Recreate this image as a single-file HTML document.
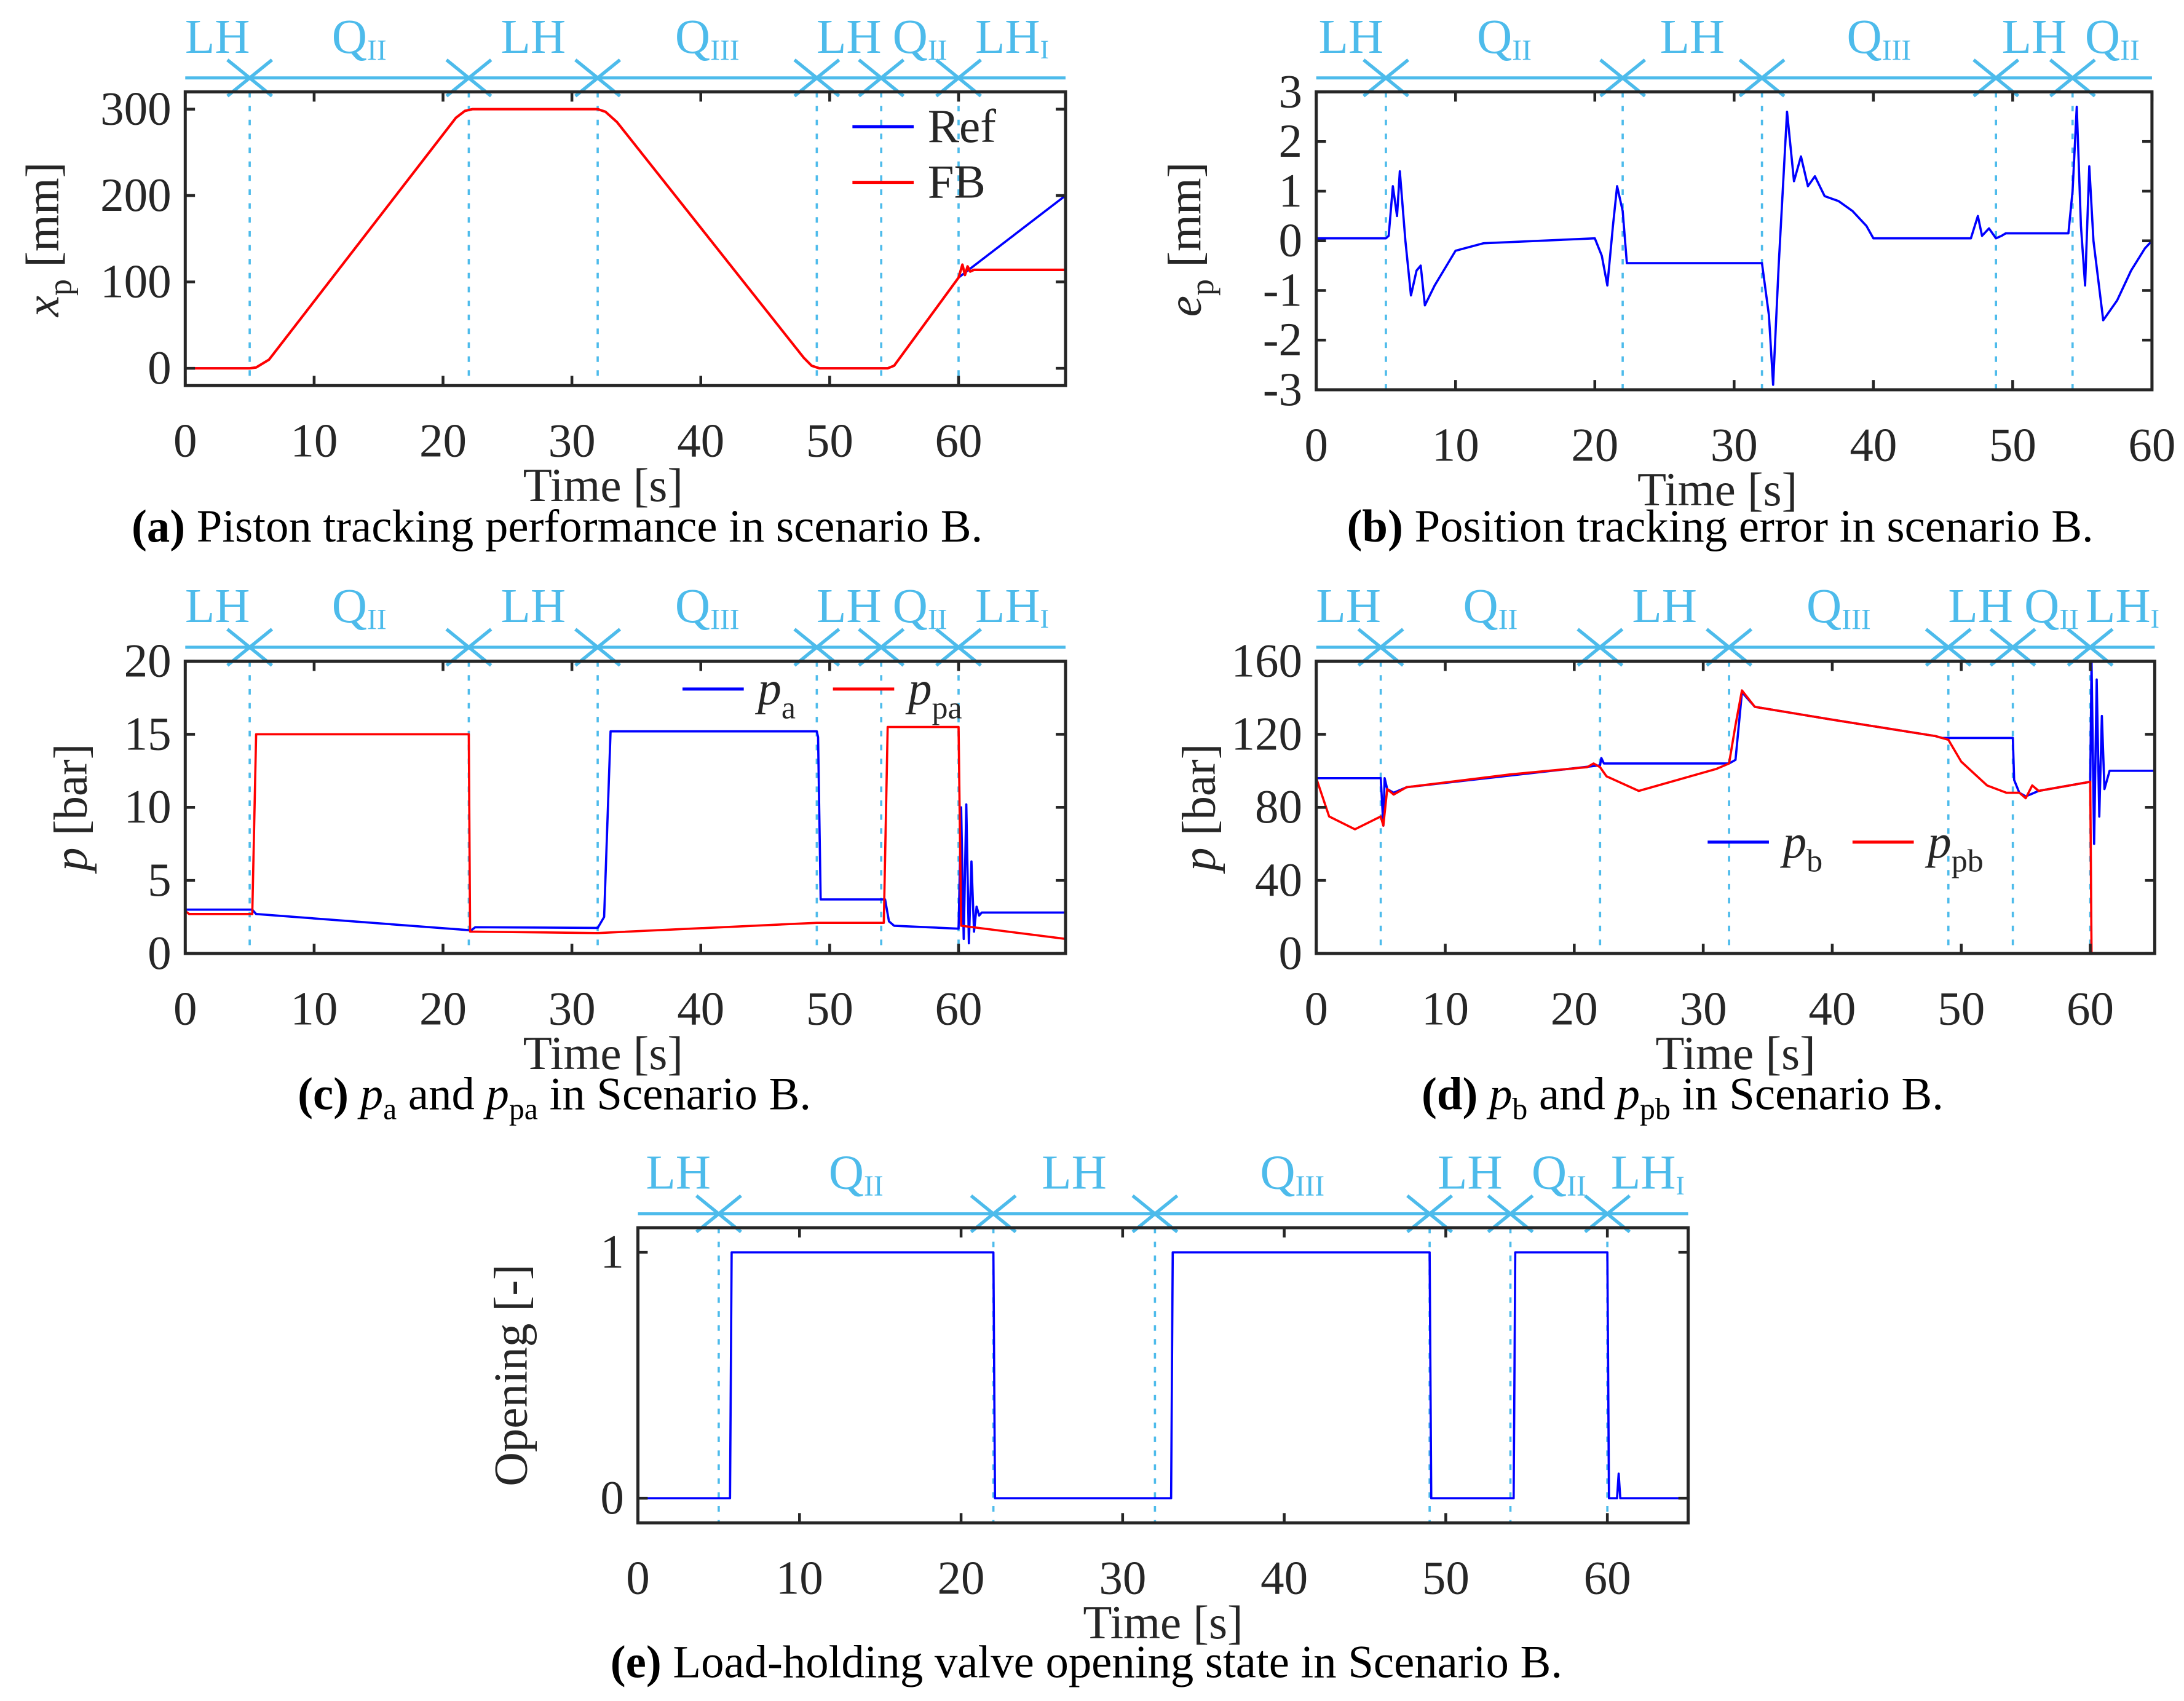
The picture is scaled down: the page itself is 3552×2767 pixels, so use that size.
<!DOCTYPE html>
<html><head><meta charset="utf-8">
<style>
html,body{margin:0;padding:0;background:#fff;}
svg{display:block;}
text{font-family:"Liberation Serif",serif;fill:#262626;}
.ph{fill:#4dbbeb;font-size:35px;}
.tk{font-size:34px;}
.cap{font-size:33px;fill:#000;}
</style></head>
<body>
<svg id="fig" width="3552" height="2767" viewBox="0 0 1568 1222" preserveAspectRatio="none" xmlns="http://www.w3.org/2000/svg">
<text class="cap" x="400" y="389" text-anchor="middle"><tspan font-weight="bold">(a)</tspan> Piston tracking performance in scenario B.</text>
<text class="cap" x="1235" y="389" text-anchor="middle"><tspan font-weight="bold">(b)</tspan> Position tracking error in scenario B.</text>
<text class="cap" x="398" y="797" text-anchor="middle"><tspan font-weight="bold">(c)</tspan> <tspan font-style="italic">p</tspan><tspan font-size="22" dy="7">a</tspan><tspan dy="-7"> and </tspan><tspan font-style="italic">p</tspan><tspan font-size="22" dy="7">pa</tspan><tspan dy="-7"> in Scenario B.</tspan></text>
<text class="cap" x="1208" y="797" text-anchor="middle"><tspan font-weight="bold">(d)</tspan> <tspan font-style="italic">p</tspan><tspan font-size="22" dy="7">b</tspan><tspan dy="-7"> and </tspan><tspan font-style="italic">p</tspan><tspan font-size="22" dy="7">pb</tspan><tspan dy="-7"> in Scenario B.</tspan></text>
<text class="cap" x="780" y="1205" text-anchor="middle"><tspan font-weight="bold">(e)</tspan> Load-holding valve opening state in Scenario B.</text>
</svg>
<script>
// ---------- data ----------
const phaseA = [5,22,32,49,54,60];
const phaseB = [5,22,32,48.8,54.3];
const phaseLabelsFull = ["LH","QII","LH","QIII","LH","QII","LH1"];
const phaseLabelsB = ["LH","QII","LH","QIII","LH","QII"];

const aT_ref = [0,5,5.5,6.5,21,21.7,22.3,32,32.6,33.5,48,48.6,49.2,54.5,55,60,68.3];
const aY_ref = [0,0,1,10,290,298,300,300,297,285,12,3,0,0,3,105,200];
const aT_fb  = [0,5,5.5,6.5,21,21.7,22.3,32,32.6,33.5,48,48.6,49.2,54.5,55,60,60.3,60.5,60.7,60.9,61.2,68.3];
const aY_fb  = [0,0,1,10,290,298,300,300,297,285,12,3,0,0,3,105,120,108,118,112,114,114];

const bT = [0,5,5.2,5.5,5.8,6.0,6.4,6.8,7.2,7.5,7.8,8.5,10,12,20,20.5,20.9,21.3,21.6,22,22.3,32,32.5,32.8,33.2,33.8,34.3,34.8,35.3,35.8,36.5,37.5,38.5,39.5,40,47,47.5,47.8,48.3,48.8,49.2,49.5,54,54.3,54.6,54.9,55.2,55.5,55.8,56.5,57.5,58.5,59.5,60];
const bE = [0.05,0.05,0.1,1.1,0.5,1.4,0,-1.1,-0.6,-0.5,-1.3,-0.9,-0.2,-0.05,0.05,-0.3,-0.9,0.3,1.1,0.6,-0.45,-0.45,-1.5,-2.9,-0.5,2.6,1.2,1.7,1.1,1.3,0.9,0.8,0.6,0.3,0.05,0.05,0.5,0.1,0.25,0.05,0.1,0.15,0.15,1,2.7,0.3,-0.9,1.5,0,-1.6,-1.2,-0.6,-0.15,0];

const cT_pa = [0,5.2,5.5,22,22.2,22.5,32,32.5,33,49,49.1,49.3,54.3,54.6,55,60,60.2,60.4,60.6,60.8,61.0,61.2,61.4,61.6,61.8,62,68.3];
const cY_pa = [3,3,2.7,1.6,1.6,1.8,1.75,2.5,15.2,15.2,14.8,3.7,3.7,2.2,1.9,1.7,10,1,10.2,0.7,6.3,1.5,3.2,2.6,2.8,2.8,2.8];
const cT_ppa = [0,0.3,5.2,5.5,5.7,22,22.1,32,49,54.2,54.5,60,60.2,68.3];
const cY_ppa = [2.9,2.7,2.7,15,15,15,1.5,1.4,2.1,2.1,15.5,15.5,1.9,1.0];

const dT_pb = [0,5,5.2,5.3,5.5,6,7,22,22.1,22.3,32,32.5,33,34,40,48,48.5,49,54,54.1,54.5,55,56,60,60.1,60.3,60.5,60.7,60.9,61.1,61.5,65];
const dY_pb = [96,96,70,96,90,88,91,103,107,104,104,106,143,135,128,119,118,118,118,95,88,86,89,94,160,60,150,75,130,90,100,100];
const dT_ppb = [0,1,3,5,5.2,5.5,6,7,15,21,21.5,22,22.5,25,28,31,32,32.5,33,34,40,48,49,50,52,53.5,54.5,55,55.5,56,60,60.1,65];
const dY_ppb = [96,75,68,75,70,90,87,91,98,102,104,102,97,89,95,101,104,125,144,135,128,119,117,105,92,88,88,85,92,89,94,0,0];

const eT = [0,5.7,5.8,22,22.1,33,33.1,49,49.1,54.2,54.3,60,60.1,60.6,60.7,60.8,65];
const eY = [0,0,1,1,0,0,1,1,0,0,1,1,0,0,0.1,0,0];

// ---------- helpers ----------
const NS = "http://www.w3.org/2000/svg";
const svg = document.getElementById('fig');
function mk(tag, attrs, parent){
  const e = document.createElementNS(NS, tag);
  for (const k in attrs) e.setAttribute(k, attrs[k]);
  (parent||svg).appendChild(e);
  return e;
}
function panel(p){
  const g = mk('g', {});
  
  
  const sx = t => p.x0 + (t - p.xmin) / (p.xmax - p.xmin) * (p.x1 - p.x0);
  const sy = v => p.y1 - (v - p.ymin) / (p.ymax - p.ymin) * (p.y1 - p.y0);
  p.phases.forEach(t => {
    const l = mk('line', {x1:sx(t), x2:sx(t), y1:p.y0, y2:p.y1, stroke:'#4dbbeb', 'stroke-width':1.6, 'stroke-dasharray':'4 6'}, g);
    
    
  });
  const bounds = [p.xmin].concat(p.phases, [p.xmax]);
  const ay = p.y0 - 10;
  for (let i=0;i<bounds.length-1;i++){
    const a = sx(bounds[i]), b = sx(bounds[i+1]);
    mk('line',{x1:a,x2:b,y1:ay,y2:ay,stroke:'#4dbbeb','stroke-width':2.2},g);
    if (i>0) mk('path',{d:`M${a+16},${ay-13} L${a},${ay} L${a+16},${ay+13}`,fill:'none',stroke:'#4dbbeb','stroke-width':2.4},g);
    if (i<bounds.length-2) mk('path',{d:`M${b-16},${ay-13} L${b},${ay} L${b-16},${ay+13}`,fill:'none',stroke:'#4dbbeb','stroke-width':2.4},g);
    const lab = p.labels[i];
    const tx = mk('text',{x:(a+b)/2, y:ay-18, 'text-anchor':'middle', class:'ph'},g);
    
    
    if (lab==='LH') tx.textContent='LH';
    else if (lab==='LH1'){ tx.textContent='LH'; const s=mk('tspan',{'font-size':19,dy:4},tx); s.textContent='I'; }
    else { tx.textContent='Q'; const s=mk('tspan',{'font-size':21,dy:5},tx); s.textContent = lab==='QII'?'II':'III'; }
  }
  p.series.forEach(s => {
    let d='';
    s.t.forEach((t,i)=>{ d += (i?'L':'M') + sx(t).toFixed(2) + ',' + sy(s.v[i]).toFixed(2); });
    const pl = mk('path',{d:d,fill:'none',stroke:s.color,'stroke-width':s.w||1.6,'stroke-linejoin':'round'},g);
    
    
  });
  const box = mk('rect',{x:p.x0,y:p.y0,width:p.x1-p.x0,height:p.y1-p.y0,fill:'none',stroke:'#262626','stroke-width':2.2},g);
  
  
  p.xticks.forEach(t => {
    const x = sx(t);
    mk('line',{x1:x,x2:x,y1:p.y1,y2:p.y1-7,stroke:'#262626','stroke-width':2},g);
    mk('line',{x1:x,x2:x,y1:p.y0,y2:p.y0+7,stroke:'#262626','stroke-width':2},g);
    const tx = mk('text',{x:x,y:p.y1+51,'text-anchor':'middle',class:'tk'},g);
    
    
    tx.textContent = t;
  });
  p.yticks.forEach((v,i) => {
    const y = sy(v);
    mk('line',{x1:p.x0,x2:p.x0+7,y1:y,y2:y,stroke:'#262626','stroke-width':2},g);
    mk('line',{x1:p.x1,x2:p.x1-7,y1:y,y2:y,stroke:'#262626','stroke-width':2},g);
    const tx = mk('text',{x:p.x0-10,y:y+11,'text-anchor':'end',class:'tk'},g);
    
    
    tx.textContent = v;
  });
  const xt = mk('text',{x:(p.x0+p.x1)/2 + (p.tdx||0),y:p.y1+83,'text-anchor':'middle',class:'tk'},g);
  
  
  xt.textContent='Time [s]';
  return {g, sx, sy};
}
function ytitle(g, x, y, parts){
  const t = mk('text',{x:x,y:y,'text-anchor':'middle',class:'tk',transform:`rotate(-90 ${x} ${y})`},g);
  
  
  parts.forEach(p => { const s = mk('tspan', p.a||{}, t); s.textContent = p.s; });
}
function legend(g, items){
  items.forEach(it => {
    const l = mk('line',{x1:it.x,x2:it.x+44,y1:it.y,y2:it.y,stroke:it.color,'stroke-width':2.2},g);
    
    
    const t = mk('text',{x:it.x+54,y:it.y+11,class:'tk'},g);
    
    
    if (it.sub){ const a=mk('tspan',{'font-style':'italic'},t); a.textContent='p'; const b=mk('tspan',{'font-size':23,dy:10},t); b.textContent=it.sub; }
    else t.textContent = it.label;
  });
}

// (a)
const A = panel({name:'panel-a',x0:133,x1:765,y0:66,y1:277,xmin:0,xmax:68.3,ymin:-20,ymax:320,tdx:-16,
  phases:phaseA,labels:phaseLabelsFull,xticks:[0,10,20,30,40,50,60],yticks:[0,100,200,300],
  series:[{name:'ref-line',t:aT_ref,v:aY_ref,color:'#0000ff'},{name:'fb-line',t:aT_fb,v:aY_fb,color:'#ff0000',w:1.8}]});
ytitle(A.g, 42, 172, [{s:'x',a:{'font-style':'italic'}},{s:'p',a:{'font-size':24,dy:9}},{s:' [mm]',a:{dy:-9}}]);
legend(A.g,[{x:612,y:91,color:'#0000ff',label:'Ref'},{x:612,y:131,color:'#ff0000',label:'FB'}]);

// (b)
const B = panel({name:'panel-b',x0:945,x1:1545,y0:66,y1:280,xmin:0,xmax:60,ymin:-3,ymax:3,tdx:-12,
  phases:phaseB,labels:phaseLabelsB,xticks:[0,10,20,30,40,50,60],yticks:[-3,-2,-1,0,1,2,3],
  series:[{name:'error-line',t:bT,v:bE,color:'#0000ff'}]});
ytitle(B.g, 862, 172, [{s:'e',a:{'font-style':'italic'}},{s:'p',a:{'font-size':24,dy:9}},{s:' [mm]',a:{dy:-9}}]);

// (c)
const C = panel({name:'panel-c',x0:133,x1:765,y0:475,y1:685,xmin:0,xmax:68.3,ymin:0,ymax:20,tdx:-16,
  phases:phaseA,labels:phaseLabelsFull,xticks:[0,10,20,30,40,50,60],yticks:[0,5,10,15,20],
  series:[{name:'pa-line',t:cT_pa,v:cY_pa,color:'#0000ff'},{name:'ppa-line',t:cT_ppa,v:cY_ppa,color:'#ff0000'}]});
ytitle(C.g, 62, 580, [{s:'p',a:{'font-style':'italic'}},{s:' [bar]'}]);
legend(C.g,[{x:490,y:495,color:'#0000ff',sub:'a'},{x:598,y:495,color:'#ff0000',sub:'pa'}]);

// (d)
const D = panel({name:'panel-d',x0:945,x1:1547,y0:475,y1:685,xmin:0,xmax:65,ymin:0,ymax:160,
  phases:phaseA,labels:phaseLabelsFull,xticks:[0,10,20,30,40,50,60],yticks:[0,40,80,120,160],
  series:[{name:'pb-line',t:dT_pb,v:dY_pb,color:'#0000ff'},{name:'ppb-line',t:dT_ppb,v:dY_ppb,color:'#ff0000'}]});
ytitle(D.g, 872, 580, [{s:'p',a:{'font-style':'italic'}},{s:' [bar]'}]);
legend(D.g,[{x:1226,y:605,color:'#0000ff',sub:'b'},{x:1330,y:605,color:'#ff0000',sub:'pb'}]);

// (e)
const E = panel({name:'panel-e',x0:458,x1:1212,y0:882,y1:1094,xmin:0,xmax:65,ymin:-0.1,ymax:1.1,
  phases:phaseA,labels:phaseLabelsFull,xticks:[0,10,20,30,40,50,60],yticks:[0,1],
  series:[{name:'opening-line',t:eT,v:eY,color:'#0000ff'}]});
ytitle(E.g, 378, 988, [{s:'Opening [-]'}]);
</script>
</body></html>
